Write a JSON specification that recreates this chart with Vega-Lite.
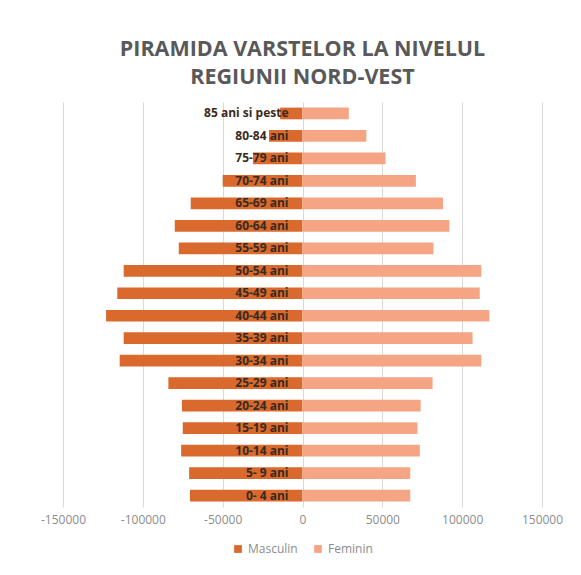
{
  "$schema": "https://vega.github.io/schema/vega-lite/v6.json",
  "width": 479,
  "height": 405,
  "autosize": "none",
  "padding": {"left": 63, "top": 102, "right": 39, "bottom": 68},
  "background": "white",
  "title": {
    "text": ["PIRAMIDA VARSTELOR LA NIVELUL", "REGIUNII NORD-VEST"],
    "font": "Open Sans",
    "fontSize": 21.5,
    "fontWeight": "bold",
    "color": "#595959",
    "anchor": "middle",
    "offset": 14,
    "lineHeight": 28
  },
  "data": {
    "values": [
      {"age": "85 ani si peste", "sex": "Masculin", "value": -14000},
      {"age": "80-84 ani", "sex": "Masculin", "value": -21000},
      {"age": "75-79 ani", "sex": "Masculin", "value": -31000},
      {"age": "70-74 ani", "sex": "Masculin", "value": -50000},
      {"age": "65-69 ani", "sex": "Masculin", "value": -70000},
      {"age": "60-64 ani", "sex": "Masculin", "value": -80000},
      {"age": "55-59 ani", "sex": "Masculin", "value": -77500},
      {"age": "50-54 ani", "sex": "Masculin", "value": -112000},
      {"age": "45-49 ani", "sex": "Masculin", "value": -116000},
      {"age": "40-44 ani", "sex": "Masculin", "value": -123000},
      {"age": "35-39 ani", "sex": "Masculin", "value": -112000},
      {"age": "30-34 ani", "sex": "Masculin", "value": -114500},
      {"age": "25-29 ani", "sex": "Masculin", "value": -84000},
      {"age": "20-24 ani", "sex": "Masculin", "value": -75500},
      {"age": "15-19 ani", "sex": "Masculin", "value": -75000},
      {"age": "10-14 ani", "sex": "Masculin", "value": -76000},
      {"age": "5- 9 ani", "sex": "Masculin", "value": -71000},
      {"age": "0- 4 ani", "sex": "Masculin", "value": -70500},
      {"age": "85 ani si peste", "sex": "Feminin", "value": 29000},
      {"age": "80-84 ani", "sex": "Feminin", "value": 40000},
      {"age": "75-79 ani", "sex": "Feminin", "value": 52000},
      {"age": "70-74 ani", "sex": "Feminin", "value": 71000},
      {"age": "65-69 ani", "sex": "Feminin", "value": 88000},
      {"age": "60-64 ani", "sex": "Feminin", "value": 92000},
      {"age": "55-59 ani", "sex": "Feminin", "value": 82000},
      {"age": "50-54 ani", "sex": "Feminin", "value": 112000},
      {"age": "45-49 ani", "sex": "Feminin", "value": 111000},
      {"age": "40-44 ani", "sex": "Feminin", "value": 117000},
      {"age": "35-39 ani", "sex": "Feminin", "value": 106500},
      {"age": "30-34 ani", "sex": "Feminin", "value": 112000},
      {"age": "25-29 ani", "sex": "Feminin", "value": 81500},
      {"age": "20-24 ani", "sex": "Feminin", "value": 74000},
      {"age": "15-19 ani", "sex": "Feminin", "value": 72000},
      {"age": "10-14 ani", "sex": "Feminin", "value": 73500},
      {"age": "5- 9 ani", "sex": "Feminin", "value": 67500},
      {"age": "0- 4 ani", "sex": "Feminin", "value": 67500}
    ]
  },
  "encoding": {
    "y": {
      "field": "age",
      "type": "nominal",
      "sort": ["85 ani si peste", "80-84 ani", "75-79 ani", "70-74 ani", "65-69 ani", "60-64 ani", "55-59 ani", "50-54 ani", "45-49 ani", "40-44 ani", "35-39 ani", "30-34 ani", "25-29 ani", "20-24 ani", "15-19 ani", "10-14 ani", "5- 9 ani", "0- 4 ani"],
      "scale": {"paddingInner": 0.48, "paddingOuter": 0.25},
      "axis": null
    }
  },
  "layer": [
    {
      "mark": {"type": "bar"},
      "encoding": {
        "x": {
          "field": "value",
          "type": "quantitative",
          "scale": {"domain": [-150000, 150000], "nice": false},
          "axis": {
            "values": [-150000, -100000, -50000, 0, 50000, 100000, 150000],
            "format": "d",
            "labelExpr": "replace(datum.label, '\u2212', '-')",
            "title": null,
            "grid": true,
            "gridColor": "#d9d9d9",
            "domain": false,
            "ticks": false,
            "labelPadding": 7,
            "labelFont": "Open Sans",
            "labelFontSize": 12,
            "labelColor": "#8c8c8c",
            "labelFlush": false
          }
        },
        "color": {
          "field": "sex",
          "type": "nominal",
          "scale": {"domain": ["Masculin", "Feminin"], "range": ["#D9692C", "#F6A584"]},
          "legend": {
            "orient": "bottom",
            "direction": "horizontal",
            "title": null,
            "symbolType": "square",
            "symbolSize": 60,
            "labelFont": "Open Sans",
            "labelFontSize": 12,
            "labelColor": "#8c8c8c",
            "columnPadding": 14,
            "offset": 18
          }
        }
      }
    },
    {
      "transform": [{"filter": "datum.sex === 'Masculin'"}],
      "mark": {"type": "text", "align": "right", "baseline": "middle", "dx": -14, "font": "Open Sans", "fontWeight": "bold", "fontSize": 12, "color": "#3b2a20"},
      "encoding": {
        "x": {"datum": 0},
        "text": {"field": "age"}
      }
    }
  ],
  "config": {
    "view": {"stroke": null},
    "legend": {"layout": {"bottom": {"anchor": "middle"}}}
  }
}
